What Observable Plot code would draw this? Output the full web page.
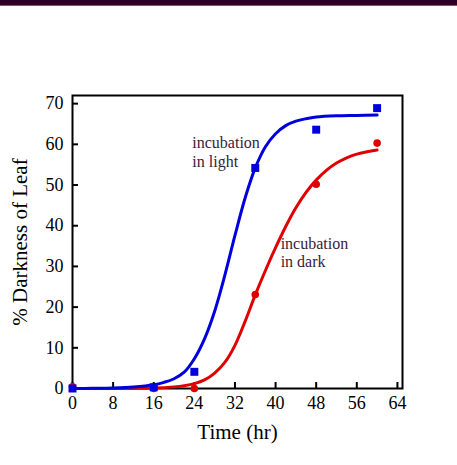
<!DOCTYPE html>
<html>
<head>
<meta charset="utf-8">
<script src="https://cdn.jsdelivr.net/npm/d3@7"></script>
<script src="https://cdn.jsdelivr.net/npm/@observablehq/plot@0.6"></script>
<style>
  html, body { margin: 0; padding: 0; background: #fff; }
  #band { height: 5px; background: #2e0028; border-bottom: 1px solid #7b5a73; }
  #chart svg { display: block; }
  #chart svg text { font-family: 'Liberation Serif', 'Times New Roman', serif; }
</style>
</head>
<body>
<div id="band"></div>
<div id="chart"></div>
<script>
// Measured points
const lightTime = [0, 16, 24, 36, 48, 60];
const lightValue = [0, 0.3, 4.1, 54.2, 63.6, 68.9];
const darkTime = [0, 16, 24, 36, 48, 60];
const darkValue = [0.4, 0, 0, 23.1, 50.2, 60.3];

// Fitted curves
const lightCurveTime  = [0, 4, 8, 12, 16, 18, 20, 22, 24, 26, 28, 30, 32, 34, 36, 38, 40, 42, 44, 46, 48, 52, 56, 60];
const lightCurveValue = [0, 0.04, 0.12, 0.35, 0.9, 1.5, 2.4, 4.0, 7.3, 12.2, 19, 27.8, 37.6, 46.8, 54.2, 59.4, 62.6, 64.6, 65.7, 66.3, 66.7, 67.0, 67.1, 67.2];
const darkCurveTime  = [0, 8, 16, 20, 22, 24, 26, 28, 30, 32, 34, 36, 38, 40, 42, 44, 46, 48, 50, 52, 54, 56, 58, 60];
const darkCurveValue = [0, 0, 0.1, 0.4, 0.7, 1.2, 2.1, 3.8, 6.4, 10.6, 16.5, 23, 29, 34.6, 39.8, 44.4, 48.2, 51.2, 53.6, 55.4, 56.7, 57.6, 58.2, 58.6];

const xTicks = [0, 8, 16, 24, 32, 40, 48, 56, 64];
const yTicks = [0, 10, 20, 30, 40, 50, 60, 70];

const labels = [
  {t: 23.6, v: 58.2, text: "incubation\nin light"},
  {t: 41.0, v: 33.5, text: "incubation\nin dark"}
];

const W = 457, H = 459;
const mL = 72, mR = 55, mT = 89, mB = 77;
const plotW = W - mL - mR, plotH = H - mT - mB;
const serif = "'Liberation Serif', 'Times New Roman', serif";

const zip = (xs, ys) => xs.map((x, i) => ({x, y: ys[i]}));

const chart = Plot.plot({
  width: W,
  height: H,
  marginLeft: mL,
  marginRight: mR,
  marginTop: mT,
  marginBottom: mB,
  style: {fontFamily: serif, fontSize: "18px", color: "#000", background: "#fff"},
  x: {domain: [0, 65]},
  y: {domain: [0, 72]},
  marks: [
    Plot.axisX({ticks: xTicks, tickSize: 0, tickPadding: 8, fontSize: 18, fontFamily: serif, fontVariant: "normal", label: null}),
    Plot.axisX({ticks: [], tickSize: 0, fontSize: 21, fontFamily: serif, label: "Time (hr)", labelAnchor: "center", labelArrow: "none", labelOffset: 50}),
    Plot.axisY({ticks: yTicks, tickSize: 0, tickPadding: 9, fontSize: 18, fontFamily: serif, fontVariant: "normal", label: null}),
    Plot.axisY({ticks: [], tickSize: 0, fontSize: 21, fontFamily: serif, label: "% Darkness of Leaf", labelAnchor: "center", labelArrow: "none", labelOffset: 60}),
    Plot.tickX(xTicks, {x: d => d, stroke: "#000", strokeWidth: 2, insetTop: plotH - 6}),
    Plot.tickY(yTicks, {y: d => d, stroke: "#000", strokeWidth: 2, insetRight: plotW - 6}),
    Plot.frame({stroke: "#000", strokeWidth: 2}),
    Plot.line(zip(darkCurveTime, darkCurveValue), {x: "x", y: "y", stroke: "#e00000", strokeWidth: 3, curve: "catmull-rom"}),
    Plot.line(zip(lightCurveTime, lightCurveValue), {x: "x", y: "y", stroke: "#0000dd", strokeWidth: 3, curve: "catmull-rom"}),
    Plot.dot(zip(darkTime, darkValue), {x: "x", y: "y", r: 3.8, fill: "#e00000", stroke: "none", symbol: "circle"}),
    Plot.dot(zip(lightTime, lightValue), {x: "x", y: "y", r: 4.5, fill: "#0000dd", stroke: "none", symbol: "square"}),
    Plot.text(labels, {x: "t", y: "v", text: "text", textAnchor: "start", lineAnchor: "middle", lineHeight: 1.15, fontSize: 16, fontFamily: serif, fill: "#3b1a3a"})
  ]
});
document.getElementById("chart").appendChild(chart);
</script>
</body>
</html>
